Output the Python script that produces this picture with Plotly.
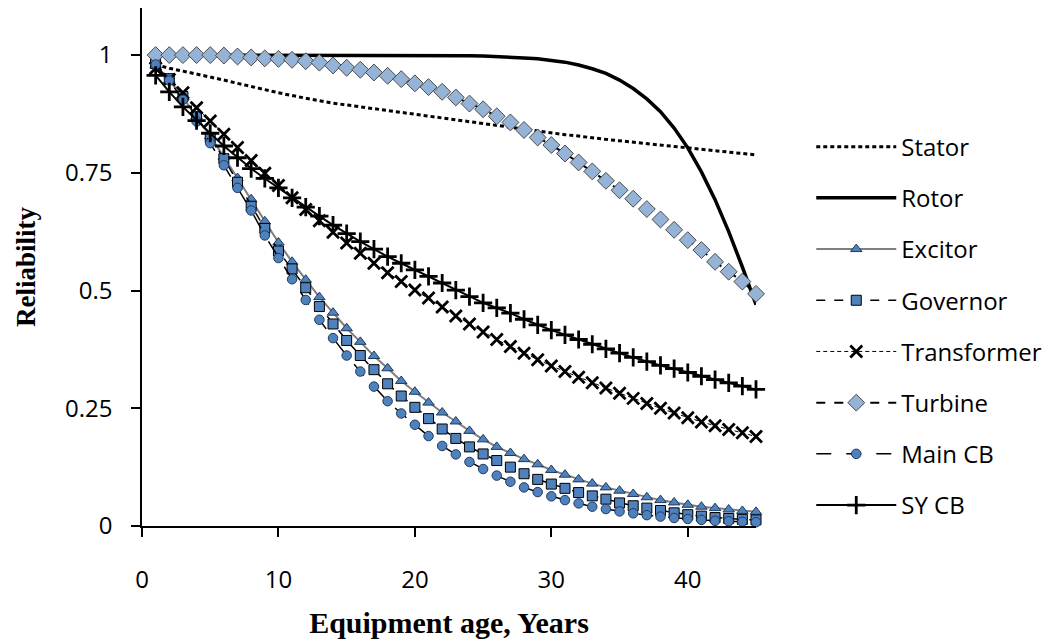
import plotly.graph_objects as go

years = list(range(1, 46))

stator = [0.980, 0.972, 0.966, 0.960, 0.954, 0.947, 0.940, 0.933, 0.926, 0.920,
          0.914, 0.908, 0.903, 0.898, 0.894, 0.890, 0.886, 0.882, 0.878, 0.874,
          0.870, 0.866, 0.862, 0.858, 0.854, 0.850, 0.846, 0.842, 0.838, 0.835,
          0.831, 0.828, 0.824, 0.821, 0.818, 0.815, 0.812, 0.809, 0.806, 0.803,
          0.800, 0.797, 0.794, 0.791, 0.788]

rotor = [1.000, 1.000, 1.000, 1.000, 1.000, 1.000, 1.000, 1.000, 1.000, 1.000,
         1.000, 1.000, 1.000, 1.000, 1.000, 1.000, 1.000, 1.000, 1.000, 1.000,
         0.9997, 0.9995, 0.9992, 0.9988, 0.998, 0.997, 0.996, 0.994, 0.992, 0.989,
         0.985, 0.979, 0.971, 0.961, 0.947, 0.929, 0.907, 0.880, 0.845, 0.803,
         0.752, 0.693, 0.625, 0.550, 0.470]

excitor = [0.978, 0.946, 0.910, 0.870, 0.828, 0.784, 0.739, 0.694, 0.647, 0.602,
           0.561, 0.523, 0.486, 0.453, 0.420, 0.391, 0.361, 0.335, 0.308, 0.285,
           0.262, 0.241, 0.222, 0.202, 0.184, 0.168, 0.155, 0.142, 0.131, 0.119,
           0.109, 0.099, 0.090, 0.082, 0.075, 0.068, 0.061, 0.055, 0.050, 0.045,
           0.041, 0.038, 0.035, 0.032, 0.030]

governor = [0.982, 0.950, 0.912, 0.869, 0.825, 0.780, 0.730, 0.679, 0.632, 0.584,
            0.546, 0.506, 0.466, 0.429, 0.394, 0.362, 0.332, 0.302, 0.276, 0.252,
            0.228, 0.206, 0.186, 0.168, 0.153, 0.139, 0.125, 0.111, 0.099, 0.089,
            0.080, 0.071, 0.064, 0.057, 0.049, 0.043, 0.038, 0.033, 0.028, 0.024,
            0.021, 0.018, 0.016, 0.014, 0.013]

transformer = [0.972, 0.948, 0.920, 0.888, 0.860, 0.832, 0.804, 0.776, 0.749, 0.723,
               0.697, 0.672, 0.648, 0.624, 0.601, 0.579, 0.558, 0.538, 0.519, 0.501,
               0.484, 0.465, 0.446, 0.429, 0.412, 0.396, 0.381, 0.367, 0.353, 0.340,
               0.328, 0.316, 0.304, 0.293, 0.282, 0.271, 0.260, 0.250, 0.240, 0.230,
               0.221, 0.213, 0.205, 0.198, 0.190]

turbine = [1.000, 1.000, 1.000, 1.000, 1.000, 0.999, 0.997, 0.995, 0.993, 0.992,
           0.990, 0.987, 0.984, 0.978, 0.973, 0.969, 0.963, 0.956, 0.949, 0.940,
           0.932, 0.922, 0.910, 0.897, 0.885, 0.870, 0.857, 0.841, 0.825, 0.809,
           0.791, 0.772, 0.753, 0.733, 0.713, 0.695, 0.673, 0.651, 0.629, 0.607,
           0.586, 0.561, 0.540, 0.519, 0.493]

main_cb = [0.980, 0.946, 0.905, 0.859, 0.813, 0.766, 0.718, 0.670, 0.617, 0.569,
           0.524, 0.480, 0.438, 0.399, 0.362, 0.328, 0.296, 0.265, 0.239, 0.215,
           0.191, 0.170, 0.152, 0.136, 0.121, 0.107, 0.094, 0.082, 0.072, 0.063,
           0.055, 0.048, 0.041, 0.036, 0.031, 0.027, 0.023, 0.020, 0.017, 0.015,
           0.013, 0.011, 0.010, 0.009, 0.008]

sy_cb = [0.957, 0.922, 0.890, 0.861, 0.834, 0.807, 0.782, 0.759, 0.738, 0.718,
         0.697, 0.677, 0.658, 0.639, 0.621, 0.604, 0.588, 0.572, 0.558, 0.544,
         0.530, 0.516, 0.501, 0.487, 0.474, 0.463, 0.452, 0.439, 0.427, 0.416,
         0.406, 0.396, 0.386, 0.376, 0.367, 0.358, 0.349, 0.341, 0.334, 0.326,
         0.318, 0.311, 0.304, 0.297, 0.290]

y_tickvals = [0, 0.25, 0.5, 0.75, 1]
y_ticktext = ["0", "0.25", "0.5", "0.75", "1"]
x_tickvals = [0, 10, 20, 30, 40]

BLUE = "#4F81BD"
LIGHT = "#95B3D7"
DARK = "#1F3A5F"

fig = go.Figure()

def add(name, y, line, marker=None):
    mode = "lines+markers" if marker else "lines"
    fig.add_trace(go.Scatter(x=years, y=y, name=name, mode=mode, line=line,
                             marker=marker, legendgroup=name, cliponaxis=False))

add("Stator", stator, dict(color="black", width=3, dash="4px,3px"))
add("Rotor", rotor, dict(color="black", width=3.5))
add("Excitor", excitor, dict(color="#7F7F7F", width=2),
    dict(symbol="triangle-up", size=10, color=BLUE, line=dict(color=DARK, width=1)))
add("Governor", governor, dict(color="black", width=1.5, dash="dash"),
    dict(symbol="square", size=10, color=BLUE, line=dict(color="black", width=1)))
add("Transformer", transformer, dict(color="black", width=1, dash="4px,3px"),
    dict(symbol="x-thin", size=12, color="black", line=dict(color="black", width=2.8)))
add("Turbine", turbine, dict(color="black", width=2, dash="dash"),
    dict(symbol="diamond", size=13, color=LIGHT, line=dict(color="#4A4A4A", width=1)))
add("Main CB", main_cb, dict(color="black", width=1.5, dash="longdash"),
    dict(symbol="circle", size=9.5, color=BLUE, line=dict(color=DARK, width=1)))
add("SY CB", sy_cb, dict(color="black", width=2),
    dict(symbol="cross-thin", size=13, color="black", line=dict(color="black", width=2.8)))

fig.update_layout(
    width=1055, height=642,
    margin=dict(l=142, r=299, t=8, b=116),
    paper_bgcolor="white", plot_bgcolor="white",
    font=dict(family="Open Sans", size=24, color="black"),
    showlegend=True,
    legend=dict(x=1.09, y=0.775, xanchor="left", yanchor="top",
                font=dict(family="Open Sans", size=24, color="black"),
                itemwidth=80, tracegroupgap=17, borderwidth=0,
                bgcolor="rgba(0,0,0,0)"),
    xaxis=dict(range=[0, 45], tickvals=x_tickvals, showgrid=False, zeroline=False,
               showline=True, linecolor="black", linewidth=1.5,
               ticks="outside", ticklen=9, tickwidth=1.5, tickcolor="black",
               ticklabelstandoff=22,
               tickfont=dict(family="Open Sans", size=24),
               title=dict(text="<b>Equipment age, Years</b>", standoff=18,
                          font=dict(family="Liberation Serif", size=30))),
    yaxis=dict(range=[0, 1.1], tickvals=y_tickvals, ticktext=y_ticktext,
               showgrid=False, zeroline=False,
               showline=True, linecolor="black", linewidth=1.5,
               ticks="outside", ticklen=9, tickwidth=1.5, tickcolor="black",
               ticklabelstandoff=14,
               tickfont=dict(family="Open Sans", size=24),
               title=dict(text="<b>Reliability</b>", standoff=22,
                          font=dict(family="Liberation Serif", size=27))),
)

fig.write_html("out.html")
